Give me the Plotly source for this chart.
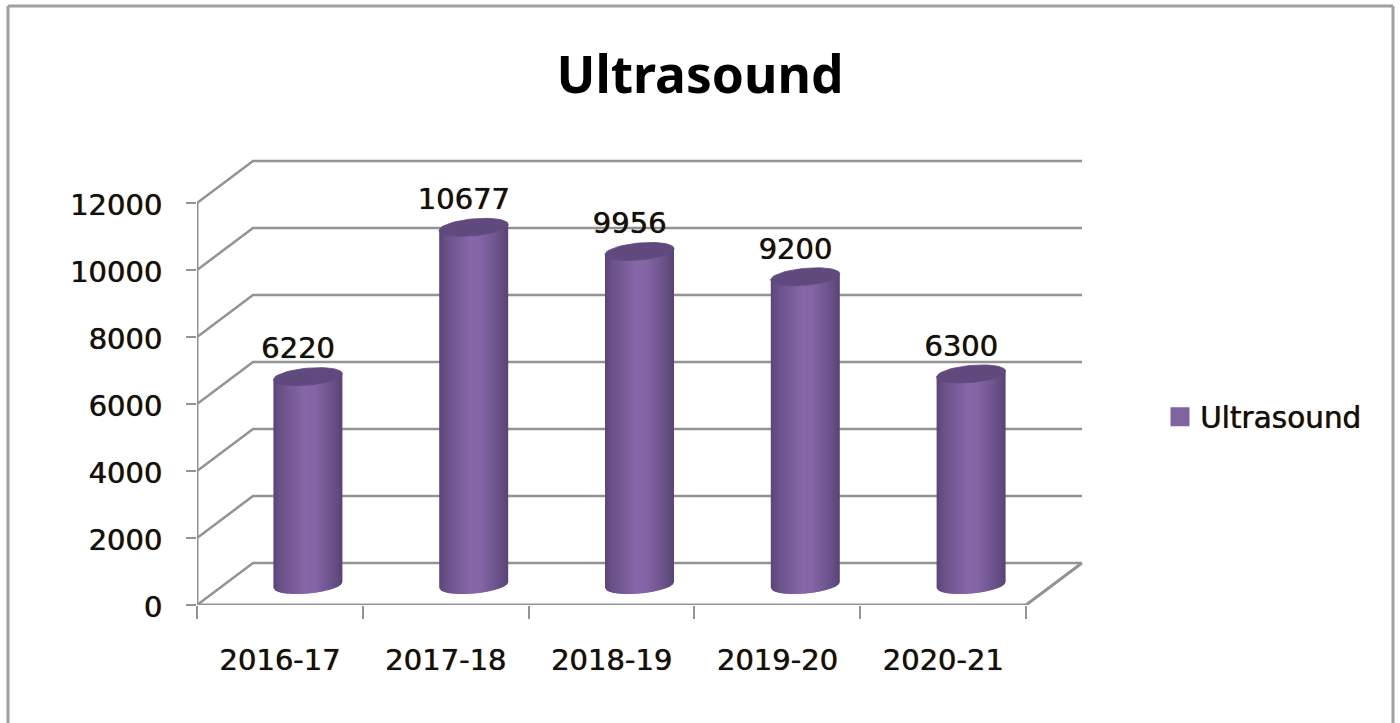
import numpy as np
import plotly.graph_objects as go

categories = ["2016-17", "2017-18", "2018-19", "2019-20", "2020-21"]
ultrasound = [6220, 10677, 9956, 9200, 6300]
y_ticks = [0, 2000, 4000, 6000, 8000, 10000, 12000]
series_name = "Ultrasound"

W, H = 1400, 723
L, R, T, B = 197, 1086, 155, 605
PX_X = (1026 - 197) / 5
PX_Y = 402 / 12000
DX = 56 / PX_X
DY = 42 / PX_Y
GREY = "#939393"
FONT = "DejaVu Sans"
TXT = "#111111"
FS = 29
SHADOW = "0.5px 0 0.7px #222222"

xr = [-0.5, -0.5 + (R - L) / PX_X]
yr = [0, (B - T) / PX_Y]

fig = go.Figure()

CX_OFF = 28 / PX_X
LIFT = 20 / PX_Y
HALF = 34.5 / PX_X
xs = np.arange(len(categories))
fig.add_trace(go.Bar(x=xs + CX_OFF, y=ultrasound, base=LIFT, width=2 * HALF * 0.95,
                     marker=dict(color="#7a5c9c", line=dict(width=0)),
                     showlegend=False, hoverinfo="skip"))

# wall & floor lines
line = dict(color=GREY, width=2.5)
for v in y_ticks:
    fig.add_trace(go.Scatter(x=[-0.5, -0.5 + DX, 4.5 + DX], y=[v, v + DY, v + DY], mode="lines",
                             line=line, showlegend=False, hoverinfo="skip"))
fig.add_trace(go.Scatter(x=[-0.5, -0.5, 4.5, 4.5 + DX], y=[12000, 0, 0, DY], mode="lines",
                         line=dict(color=GREY, width=3), showlegend=False, hoverinfo="skip"))

# cylinders
stops_t = [0, 0.10, 0.45, 0.60, 0.88, 1.0]
stops_r = [0x5a, 0x6a, 0x87, 0x85, 0x68, 0x58]
stops_g = [0x45, 0x51, 0x67, 0x65, 0x50, 0x44]
stops_b = [0x77, 0x89, 0xa9, 0xa6, 0x87, 0x74]
N = 30
B_SEMI = 8.5 / PX_Y
TILT = 3 / PX_Y
th = np.linspace(0, 2 * np.pi, 60)
for cx, v in zip(xs + CX_OFF, ultrasound):
    # underlay so that no seams show through at the rounded foot
    fig.add_trace(go.Scatter(x=cx + HALF * 0.97 * np.cos(th),
                             y=LIFT + TILT * np.cos(th) + B_SEMI * 0.97 * np.sin(th),
                             mode="lines", fill="toself", fillcolor="#7a5c9c",
                             line=dict(width=0), showlegend=False, hoverinfo="skip"))
    edges = np.linspace(-1, 1, N + 1)
    step = edges[1] - edges[0]
    for a, b in zip(edges[:-1], edges[1:]):
        u = np.linspace(a, min(b + 0.4 * step, 1), 4)
        low = LIFT + TILT * u - B_SEMI * np.sqrt(np.clip(1 - u ** 2, 0, 1))
        top = LIFT + v + TILT * u[::-1]
        t = (a + b + 2) / 4
        c = "rgb(%d,%d,%d)" % (np.interp(t, stops_t, stops_r), np.interp(t, stops_t, stops_g), np.interp(t, stops_t, stops_b))
        fig.add_trace(go.Scatter(x=np.r_[cx + u * HALF, cx + u[::-1] * HALF], y=np.r_[low, top],
                                 mode="lines", fill="toself", fillcolor=c, line=dict(width=0),
                                 showlegend=False, hoverinfo="skip"))
    fig.add_trace(go.Scatter(x=cx + HALF * np.cos(th),
                             y=LIFT + v + TILT * np.cos(th) + B_SEMI * np.sin(th),
                             mode="lines", fill="toself", fillcolor="#604a7d",
                             line=dict(color="#604a7d", width=0.8), showlegend=False, hoverinfo="skip"))

# data labels
fig.add_trace(go.Scatter(x=xs + CX_OFF - 10 / PX_X, y=[v + LIFT + 11 / PX_Y for v in ultrasound],
                         mode="text", text=[str(v) for v in ultrasound], textposition="top center",
                         textfont=dict(family=FONT, size=FS, color=TXT, shadow=SHADOW),
                         showlegend=False, hoverinfo="skip", cliponaxis=False))

# legend entry
fig.add_trace(go.Scatter(x=[None], y=[None], mode="markers", name=series_name,
                         marker=dict(symbol="square", size=16, color="#8064a2",
                                     line=dict(color="#8064a2", width=3))))

frame = dict(type="line", xref="paper", yref="paper", line=dict(color="#a0a0a0", width=3))
def px(x): return (x - L) / (R - L)
def py(y): return (B - y) / (B - T)
shapes = [
    dict(frame, x0=px(8), x1=px(8), y0=py(6), y1=py(730)),
    dict(frame, x0=px(8), x1=px(1393), y0=py(6), y1=py(6)),
    dict(frame, x0=px(1393), x1=px(1393), y0=py(6), y1=py(730)),
]

fig.update_layout(
    width=W, height=H,
    margin=dict(l=L, r=W - R, t=T, b=H - B, autoexpand=False),
    paper_bgcolor="white", plot_bgcolor="white",
    barmode="overlay", shapes=shapes,
    title=dict(text="<b>Ultrasound</b>", x=0.5, xanchor="center", y=1 - 75 / H, yanchor="middle",
               font=dict(family="Noto Sans", size=51.5, color="#000000")),
    legend=dict(x=px(1160), xanchor="left", y=py(417), yanchor="middle", itemclick=False,
                font=dict(family=FONT, size=29.5, color=TXT, shadow=SHADOW), bgcolor="rgba(0,0,0,0)"),
    showlegend=True,
    xaxis=dict(range=xr, tickmode="array", tickvals=list(xs), ticktext=categories,
               ticks="", showgrid=False, zeroline=False, showline=False, ticklabelstandoff=35,
               tickfont=dict(family=FONT, size=FS, color=TXT, shadow=SHADOW),
               minor=dict(tickmode="array", tickvals=[-0.5, 0.5, 1.5, 2.5, 3.5, 4.5], ticks="outside",
                          ticklen=13, tickwidth=2, tickcolor=GREY, showgrid=False)),
    yaxis=dict(range=yr, tickmode="array", tickvals=y_ticks, ticktext=[str(v) for v in y_ticks],
               ticks="outside", ticklen=10, tickwidth=2,
               tickcolor=GREY, showgrid=False, zeroline=False, showline=False, ticklabelstandoff=18,
               ticklabelshift=2,
               tickfont=dict(family=FONT, size=FS, color=TXT, shadow=SHADOW)),
)
fig.write_html("out.html", config={"displayModeBar": False},
               post_script="document.body.style.margin='0';document.body.style.overflow='hidden';")
